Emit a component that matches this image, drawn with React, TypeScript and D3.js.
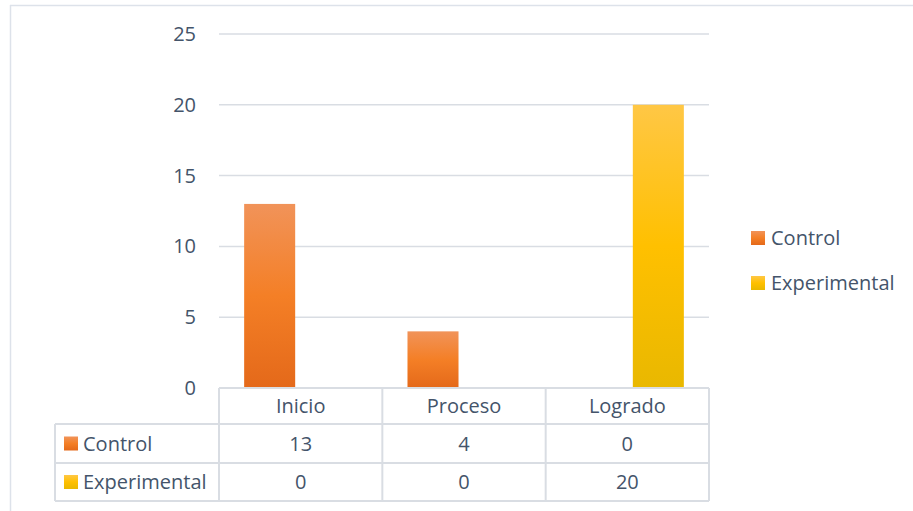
import * as d3 from 'd3';

const categories = ['Inicio', 'Proceso', 'Logrado'];
const seriesNames = ['Control', 'Experimental'];
const controlValues = [13, 4, 0];
const experimentalValues = [0, 0, 20];
const yTicks = [0, 5, 10, 15, 20, 25];

const W = 913;
const H = 511;
const FONT = '"Open Sans", sans-serif';
const FS = 20;
const TEXT = '#44546A';
const GRID = '#D9DDE3';

const plot = { left: 219, right: 709, top: 34, bottom: 388 };
const rowH = [36, 39, 38];
const tableLeft = 55;

export default function App() {
  const values = [controlValues, experimentalValues];
  const gradIds = ['gOrange', 'gYellow'];

  const y = d3.scaleLinear().domain([0, 25]).range([plot.bottom, plot.top]);
  const xCol = d3.scaleBand<string>().domain(categories).range([plot.left, plot.right]).padding(0);
  const xBar = d3.scaleBand<string>().domain(categories).range([plot.left, plot.right])
    .paddingInner(0.308).paddingOuter(0.154);
  const xSeries = d3.scaleBand<string>().domain(seriesNames).range([0, xBar.bandwidth()]).paddingInner(0.177);

  const rowTops = [plot.bottom, plot.bottom + rowH[0], plot.bottom + rowH[0] + rowH[1]];
  const tableBottom = rowTops[2] + rowH[2];

  return (
    <svg width={W} height={H} style={{ position: 'absolute', left: 0, top: 0, background: '#fff' }}>
      <defs>
        <linearGradient id="gOrange" x1="0" y1="0" x2="0" y2="1">
          <stop offset="0" stopColor="#F19359" />
          <stop offset="0.5" stopColor="#F47F26" />
          <stop offset="1" stopColor="#E4691A" />
        </linearGradient>
        <linearGradient id="gYellow" x1="0" y1="0" x2="0" y2="1">
          <stop offset="0" stopColor="#FFC745" />
          <stop offset="0.5" stopColor="#FFC000" />
          <stop offset="1" stopColor="#E9B800" />
        </linearGradient>
      </defs>

      {/* outer frame */}
      <line x1={10} x2={W} y1={5.5} y2={5.5} stroke="#DDE2EA" strokeWidth={1.5} />
      <line x1={10.5} x2={10.5} y1={5} y2={H} stroke="#DDE2EA" strokeWidth={1.5} />

      {/* gridlines + y labels */}
      {yTicks.map((t) => (
        <g key={t}>
          {t > 0 && (
            <line x1={plot.left} x2={plot.right} y1={y(t)} y2={y(t)} stroke={GRID} strokeWidth={1.5} />
          )}
          <text x={196} y={y(t)} dy="0.35em" textAnchor="end" fontFamily={FONT} fontSize={FS} fill={TEXT}>
            {t}
          </text>
        </g>
      ))}

      {/* bars */}
      {seriesNames.map((s, si) =>
        categories.map((c, ci) => {
          const v = values[si][ci];
          if (v === 0) return null;
          return (
            <rect
              key={s + c}
              x={(xBar(c) ?? 0) + (xSeries(s) ?? 0)}
              width={xSeries.bandwidth()}
              y={y(v)}
              height={y(0) - y(v)}
              fill={`url(#${gradIds[si]})`}
            />
          );
        })
      )}

      {/* data table */}
      <g stroke={GRID} strokeWidth={2} fill="none">
        <line x1={plot.left} x2={plot.right} y1={rowTops[0]} y2={rowTops[0]} />
        <line x1={tableLeft} x2={plot.right} y1={rowTops[1]} y2={rowTops[1]} />
        <line x1={tableLeft} x2={plot.right} y1={rowTops[2]} y2={rowTops[2]} />
        <line x1={tableLeft} x2={plot.right} y1={tableBottom} y2={tableBottom} />
        <line x1={tableLeft} x2={tableLeft} y1={rowTops[1]} y2={tableBottom} />
        {categories.map((c) => (
          <line key={c} x1={xCol(c)} x2={xCol(c)} y1={rowTops[0]} y2={tableBottom} />
        ))}
        <line x1={plot.right} x2={plot.right} y1={rowTops[0]} y2={tableBottom} />
      </g>

      {categories.map((c) => (
        <text key={c} x={(xCol(c) ?? 0) + xCol.bandwidth() / 2} y={rowTops[0] + rowH[0] / 2}
          dy="0.35em" textAnchor="middle" fontFamily={FONT} fontSize={FS} fill={TEXT}>
          {c}
        </text>
      ))}

      {seriesNames.map((s, si) => (
        <g key={s}>
          <rect x={64} y={rowTops[si + 1] + rowH[si + 1] / 2 - 7} width={14} height={14} fill={`url(#${gradIds[si]})`} />
          <text x={83} y={rowTops[si + 1] + rowH[si + 1] / 2} dy="0.35em" fontFamily={FONT} fontSize={FS} fill={TEXT}>
            {s}
          </text>
          {categories.map((c, ci) => (
            <text key={c} x={(xCol(c) ?? 0) + xCol.bandwidth() / 2} y={rowTops[si + 1] + rowH[si + 1] / 2}
              dy="0.35em" textAnchor="middle" fontFamily={FONT} fontSize={FS} fill={TEXT}>
              {values[si][ci]}
            </text>
          ))}
        </g>
      ))}

      {/* legend */}
      {seriesNames.map((s, si) => (
        <g key={s} transform={`translate(751,${238 + si * 45})`}>
          <rect x={0} y={-7} width={14} height={14} fill={`url(#${gradIds[si]})`} />
          <text x={20} y={0} dy="0.35em" fontFamily={FONT} fontSize={FS} fill={TEXT}>
            {s}
          </text>
        </g>
      ))}
    </svg>
  );
}
